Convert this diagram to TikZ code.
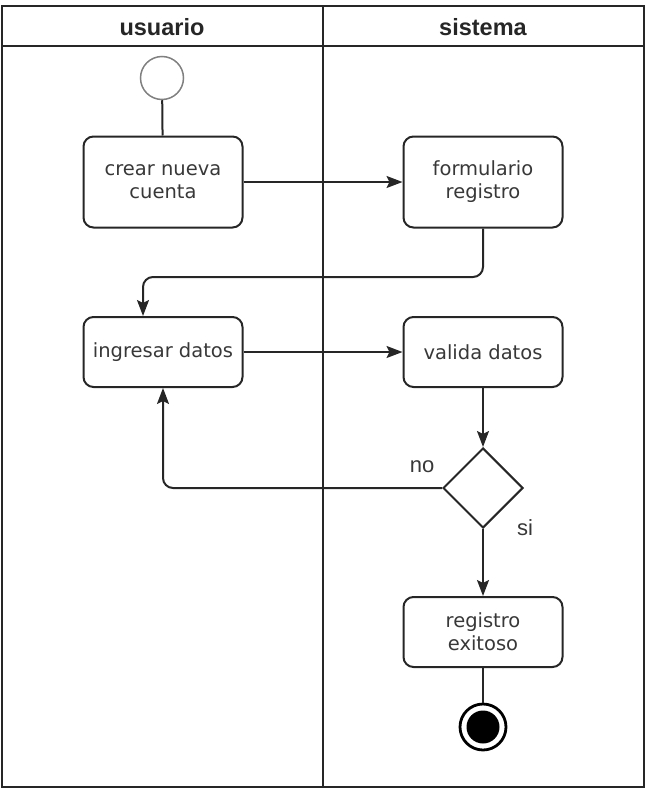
\documentclass[tikz,border=0pt]{standalone}
\usepackage{fontspec}
\setmainfont{DejaVu Sans}
\newfontfamily\carrilfont{Liberation Sans}
\usetikzlibrary{positioning,arrows.meta,shapes.geometric}

\begin{document}
\begin{tikzpicture}[x=1pt,y=-1pt,
        marco/.style={draw=black!85, line width=2.6pt},
        carril/.style={font=\carrilfont\bfseries\fontsize{23.5}{26}\selectfont, text=black!85},
        accion/.style={
            draw=black!85,
            line width=2pt,
            rounded corners=10pt,
            minimum width=159pt,
            align=center,
            text=black!78,
            font=\fontsize{19.5}{23}\selectfont
        },
        decision/.style={diamond, draw=black!85, line width=2pt, minimum width=80pt, minimum height=80pt, inner sep=0pt},
        inicio/.style={circle, draw=black!50, line width=1.5pt, minimum size=43pt, inner sep=0pt},
        fin/.style={circle, draw=black, line width=2.8pt, minimum size=46pt, inner sep=0pt},
        linea/.style={draw=black!85, line width=2pt},
        flecha/.style={linea, arrows={-Stealth[length=16pt,width=12pt,inset=3pt]}},
        rotulo/.style={font=\carrilfont\fontsize{22}{25}\selectfont, text=black!78}
    ]
    \useasboundingbox (0,0) rectangle (646,789);

    \draw[marco] (2,6) rectangle (644,787);
    \draw[marco] (2,46) -- (644,46);
    \draw[marco, line width=2pt] (323,46) -- (323,787);
    \draw[marco, line width=2pt] (323,6) -- (323,46);
    \node[carril] (usuario) at (162,27) {usuario};
    \node[carril] (sistema) at (483,27) {sistema};

    \node[inicio] (ini) at (162,78) {};
    \node[accion, minimum height=91pt] (crear) at (163,182) {crear nueva\\cuenta};
    \node[accion, minimum height=91pt] (formulario) at (483,182) {formulario\\registro};
    \node[accion, minimum height=70pt] (ingresar) at (163,352) {ingresar datos};
    \node[accion, minimum height=70pt] (valida) at (483,352) {valida datos};
    \node[decision] (dec) at (483,488) {};
    \node[accion, minimum height=70pt] (registro) at (483,632) {registro\\exitoso};
    \node[fin] (final) at (483,727) {};
    \fill[black] (final.center) circle (16.5pt);

    \node[rotulo] (no) at (422,467) {no};
    \node[rotulo] (si) at (525,528) {si};

    \coordinate (codo) at (143,277);

    \draw[linea] (ini) -- (crear);
    \draw[flecha] (crear) -- (formulario);
    \draw[flecha, rounded corners=10pt] (formulario.south) |- (codo) -- (codo |- ingresar.north);
    \draw[flecha] (ingresar) -- (valida);
    \draw[flecha] (valida) -- (dec);
    \draw[flecha, rounded corners=10pt] (dec.west) -| (ingresar.south);
    \draw[flecha] (dec) -- (registro);
    \draw[linea] (registro) -- (final);
\end{tikzpicture}
\end{document}
